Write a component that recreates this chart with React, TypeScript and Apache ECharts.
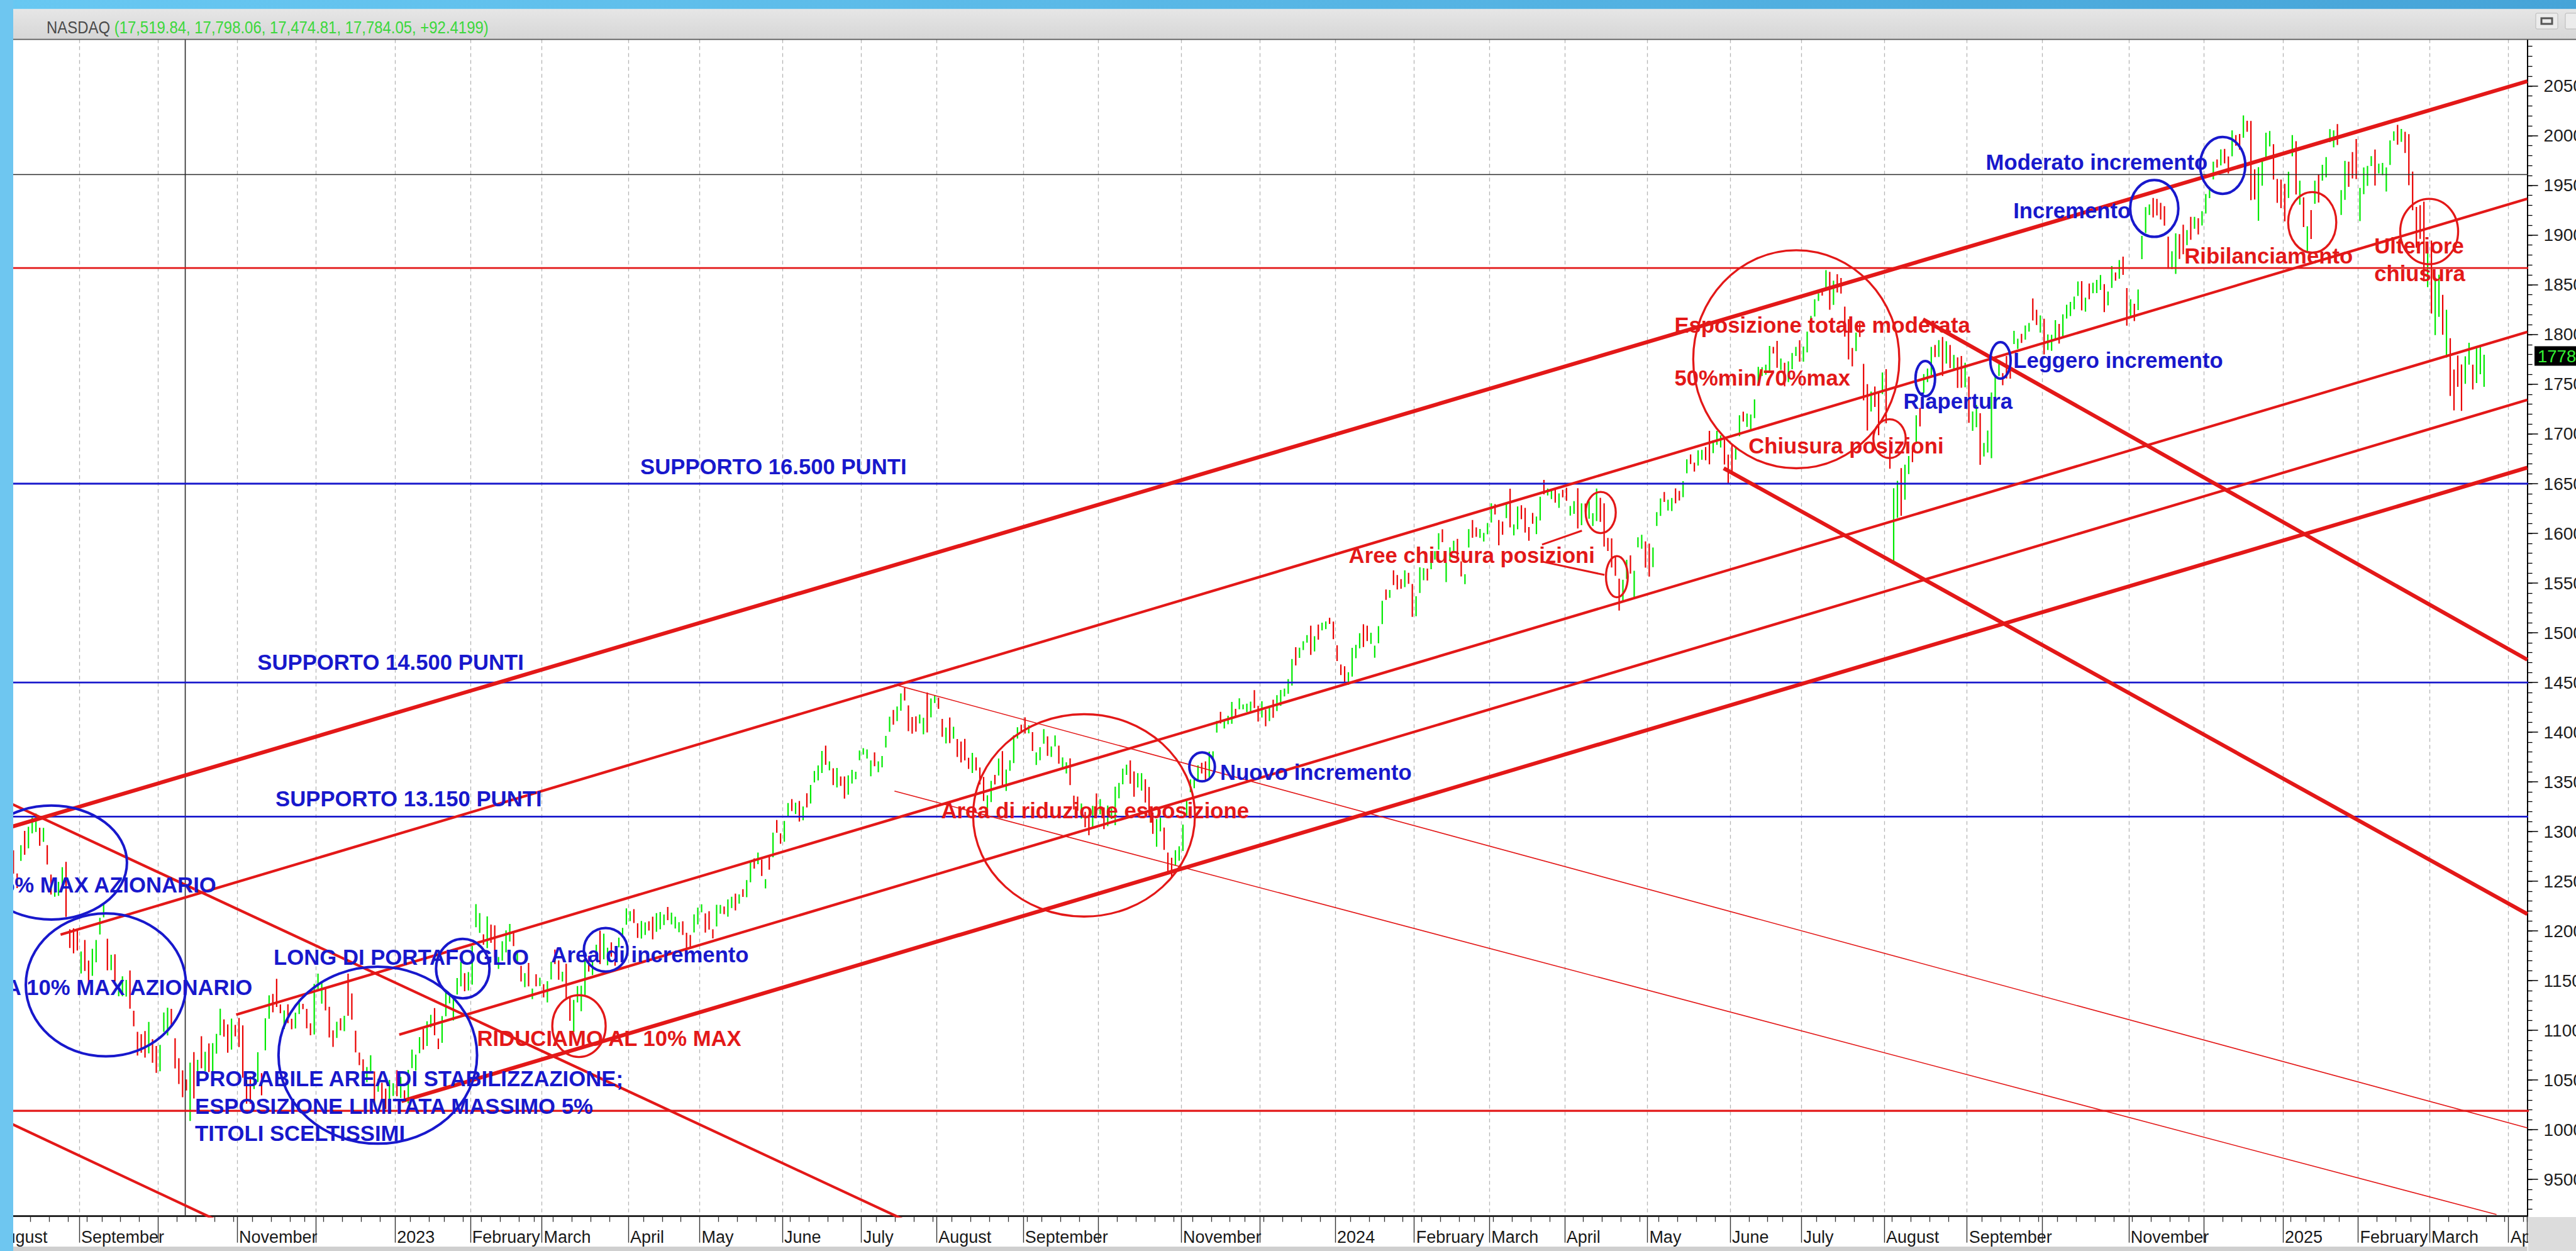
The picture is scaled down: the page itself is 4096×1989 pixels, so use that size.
import React, { useEffect, useRef } from "react";
import * as echarts from "echarts";

const CANVAS_W = 4096;
const CANVAS_H = 1989;

// ---------- NASDAQ Composite daily sessions: [open, high, low, close] ----------
const aug2022 = [[12307,12485,12290,12369],[12277,12463,12247,12349],[12434,12698,12424,12668],[12686,12742,12617,12721],[12542,12708,12534,12657],
[12750,12811,12577,12644],[12578,12578,12432,12493],[12741,12863,12705,12855],[12951,13007,12767,12780],[12884,13048,12831,13047],
[12984,13141,12981,13128],[13067,13181,12996,13103],[12981,13038,12856,12938],[12926,13037,12897,12966],[12837,12863,12668,12706],
[12552,12568,12366,12381],[12379,12474,12345,12381],[12364,12495,12353,12432],[12475,12641,12463,12640],[12601,12695,12141,12142],
[11995,12016,11828,11884],[11963,12027,11774,11883],[11977,12009,11803,11816]];
const sep2022 = [[11701,11794,11572,11785],[11874,11909,11597,11631],[11646,11702,11470,11544],[11563,11821,11549,11792],[11721,11909,11685,11862],
[11968,12132,11964,12112],[12154,12270,12137,12266],[11890,11922,11604,11634],[11683,11760,11605,11719],[11690,11765,11492,11552],
[11384,11469,11343,11448],[11370,11543,11343,11535],[11416,11508,11340,11425],[11455,11602,11218,11220],[11125,11198,11040,11067],
[10965,10985,10746,10868],[10872,10961,10775,10802],[10934,10993,10726,10829],[10835,11085,10768,11051],[10903,10911,10674,10737],
[10676,10843,10572,10576]];
const oct2022 = [[10647,10854,10589,10815],[10990,11180,10985,11176],[11022,11228,10949,11148],[11115,11216,11046,11073],[10895,10921,10617,10652],
[10705,10720,10460,10542],[10497,10598,10327,10426],[10438,10506,10395,10417],[10145,10675,10089,10649],[10750,10781,10314,10321],
[10513,10704,10509,10676],[10921,10941,10618,10772],[10663,10784,10590,10681],[10678,10868,10581,10614],[10582,10872,10495,10859],
[10888,10965,10766,10952],[10967,11218,10951,11199],[10995,11111,10937,10970],[10998,11059,10775,10792],[10845,11118,10806,11102],
[11034,11055,10940,10988]];
const nov2022 = [[11116,11125,10832,10890],[10880,11050,10524,10524],[10420,10502,10262,10342],[10485,10538,10263,10475],[10497,10580,10410,10565],
[10602,10780,10480,10616],[10546,10570,10346,10353],[10815,11121,10798,11114],[11157,11352,11117,11323],[11222,11367,11181,11196],
[11486,11518,11236,11359],[11249,11260,11172,11184],[11020,11200,11014,11144],[11235,11262,11073,11146],[11099,11117,11011,11025],
[11062,11178,11018,11174],[11179,11310,11164,11285],[11246,11267,11213,11226],[11172,11217,11020,11049],[11055,11071,10950,10983],
[11002,11468,10958,11468]];
const dec2022 = [[11479,11571,11414,11482],[11304,11481,11269,11461],[11396,11414,11200,11240],[11232,11237,10928,10958],[10934,11000,10834,10873],
[10958,11087,10923,11082],[11027,11121,11000,11005],[11025,11146,10991,11144],[11560,11571,11146,11256],[11257,11371,11107,11171],
[10980,10997,10778,10811],[10740,10777,10650,10705],[10704,10708,10526,10546],[10499,10631,10479,10547],[10606,10750,10581,10709],
[10587,10587,10247,10476],[10437,10514,10383,10498],[10462,10472,10302,10354],[10339,10414,10207,10213],[10321,10502,10301,10479],
[10369,10468,10340,10466]];
const jan2023 = [[10562,10599,10336,10386],[10449,10532,10319,10459],[10386,10397,10283,10305],[10380,10602,10265,10569],[10622,10807,10620,10636],
[10622,10756,10594,10743],[10801,10932,10770,10932],[10962,11016,10806,10931],[10848,11092,10843,11079],[11070,11156,11029,11095],
[11167,11224,10950,10958],[10889,10917,10812,10852],[10886,11144,10875,11140],[11155,11401,11142,11365],[11306,11368,11272,11334],
[11180,11319,11099,11313],[11439,11527,11361,11512],[11447,11692,11442,11622],[11530,11576,11393,11394],[11402,11587,11402,11585]];
const feb2023 = [[11574,11849,11460,11816],[12063,12270,12038,12201],[12002,12179,11980,12007],[11936,11966,11862,11888],[11863,12146,11827,12114],
[12056,12064,11881,11910],[12018,12057,11734,11790],[11700,11739,11618,11718],[11738,11897,11700,11892],[11827,12006,11784,11960],
[11917,12070,11894,12070],[11900,11987,11847,11855],[11784,11801,11681,11787],[11612,11650,11492,11492],[11505,11575,11435,11507],
[11676,11678,11442,11590],[11384,11421,11314,11395],[11539,11565,11442,11467],[11450,11529,11446,11456]];
const mar2023 = [[11421,11464,11332,11379],[11318,11495,11281,11462],[11527,11690,11512,11689],[11734,11812,11667,11676],[11672,11703,11509,11530],
[11535,11590,11491,11576],[11611,11671,11323,11338],[11305,11337,11096,11139],[11011,11306,10982,11188],[11330,11446,11281,11428],
[11262,11449,11193,11434],[11383,11735,11352,11717],[11713,11749,11591,11631],[11612,11699,11556,11675],[11759,11862,11714,11860],
[11855,12002,11667,11670],[11745,11972,11714,11788],[11723,11831,11655,11824],[11871,11886,11741,11768],[11767,11772,11650,11716],
[11847,11933,11835,11926],[12000,12031,11943,12013],[12084,12227,12062,12222]];
const apr2023 = [[12131,12199,12099,12189],[12210,12219,12080,12126],[12067,12077,11929,11996],[11960,12100,11924,12088],[11997,12087,11960,12084],
[12092,12097,12004,12032],[12121,12144,11915,11929],[11999,12180,11991,12167],[12106,12190,12017,12124],[12102,12166,12060,12158],
[12227,12241,12109,12154],[12079,12184,12066,12157],[12057,12143,12025,12060],[12065,12088,11987,12072],[12070,12097,11960,12037],
[11972,11982,11798,11800],[11884,11960,11820,11854],[12000,12167,11985,12143],[12108,12235,12066,12227]];
const may2023 = [[12208,12268,12187,12213],[12152,12176,11983,12081],[12094,12198,12014,12025],[11995,12017,11925,11967],[12062,12263,12046,12235],
[12242,12262,12173,12256],[12193,12246,12168,12180],[12272,12317,12144,12306],[12324,12345,12231,12329],[12359,12376,12207,12285],
[12327,12368,12275,12366],[12348,12420,12343,12344],[12388,12512,12339,12500],[12515,12699,12490,12688],[12700,12731,12627,12658],
[12683,12789,12672,12721],[12682,12719,12553,12560],[12484,12522,12428,12484],[12726,12754,12616,12698],[12748,12990,12741,12976],
[13106,13117,12988,13017],[12968,12981,12878,12935]];
const jun2023 = [[12953,13107,12898,13101],[13209,13287,13147,13241],[13261,13327,13206,13230],[13212,13290,13177,13276],[13296,13307,13100,13104],
[13119,13253,13113,13239],[13288,13385,13243,13259],[13300,13469,13282,13461],[13557,13610,13494,13573],[13578,13665,13515,13626],
[13595,13810,13589,13782],[13841,13864,13671,13689],[13633,13706,13616,13667],[13636,13636,13468,13502],[13462,13640,13444,13630],
[13523,13554,13459,13492],[13480,13554,13331,13335],[13377,13566,13371,13555],[13488,13621,13483,13591],[13582,13602,13526,13591],
[13725,13816,13718,13788]];
const jul2023 = [[13779,13839,13774,13816],[13761,13826,13734,13791],[13624,13715,13556,13679],[13668,13797,13658,13660],[13620,13707,13597,13685],
[13718,13760,13646,13760],[13905,13963,13846,13919],[14028,14155,14004,14138],[14156,14223,14075,14113],[14142,14258,14111,14244],
[14223,14389,14216,14353],[14389,14446,14319,14358],[14232,14270,14010,14063],[14117,14152,13985,14032],[14086,14159,14005,14058],
[14091,14178,14088,14144],[14074,14145,13978,14127],[14311,14399,13997,14050],[14167,14339,14150,14316],[14344,14371,14293,14346]];
const aug2023 = [[14306,14347,14235,14283],[14132,14133,13953,13973],[13901,14046,13887,13959],[14069,14147,13890,13909],[13974,14055,13934,14037],
[13911,13931,13750,13885],[13895,13906,13696,13722],[13830,13932,13716,13737],[13663,13743,13631,13645],[13602,13791,13590,13789],
[13718,13746,13614,13632],[13589,13645,13474,13474],[13528,13550,13307,13317],[13201,13364,13161,13291],[13324,13510,13296,13498],
[13561,13571,13473,13505],[13566,13735,13564,13722],[13800,13809,13455,13464],[13548,13624,13409,13590],[13665,13718,13612,13705],
[13694,13968,13689,13944],[13958,14050,13935,14020],[14058,14075,14012,14035]];
const sep2023 = [[14130,14149,13986,14031],[14011,14069,13988,14021],[13995,14001,13811,13873],[13722,13797,13670,13749],[13739,13848,13718,13762],
[13890,14030,13883,14021],[13941,13958,13762,13774],[13766,13856,13750,13814],[13919,13967,13856,13926],[13851,13864,13683,13708],
[13652,13746,13638,13710],[13639,13697,13584,13679],[13726,13737,13467,13469],[13328,13362,13222,13224],[13287,13352,13209,13212],
[13172,13282,13131,13271],[13180,13199,13043,13064],[13115,13156,12963,13093],[13046,13258,13033,13201],[13330,13383,13179,13219]];
const oct2023 = [[13217,13327,13173,13308],[13233,13242,13024,13059],[13092,13261,13055,13236],[13213,13245,13127,13220],[13110,13451,13064,13431],
[13358,13490,13335,13485],[13489,13633,13476,13562],[13607,13673,13571,13659],[13676,13715,13482,13574],[13576,13605,13350,13407],
[13452,13587,13443,13567],[13450,13588,13412,13534],[13488,13526,13292,13315],[13355,13448,13155,13186],[13174,13192,12977,12984],
[12941,13125,12848,13019],[13064,13141,13003,13139],[13030,13040,12816,12821],[12765,12788,12570,12596],[12698,12736,12544,12643],
[12704,12813,12657,12789],[12789,12852,12706,12851]];
const nov2023 = [[12868,13071,12805,13061],[13172,13310,13159,13294],[13413,13524,13396,13478],[13468,13537,13435,13518],[13523,13666,13500,13640],
[13680,13692,13584,13651],[13636,13706,13508,13522],[13558,13805,13533,13798],[13733,13807,13720,13768],[14005,14113,13995,14094],
[14157,14204,14087,14104],[14092,14126,14037,14114],[14117,14165,14080,14126],[14092,14305,14084,14285],[14216,14235,14148,14200],
[14262,14340,14230,14266],[14250,14279,14230,14251],[14220,14287,14203,14242],[14210,14307,14195,14282],[14367,14423,14242,14259],
[14257,14265,14107,14226]];
const dec2023 = [[14182,14311,14147,14305],[14200,14226,14059,14185],[14116,14258,14112,14230],[14311,14327,14144,14147],[14225,14372,14213,14340],
[14286,14425,14265,14404],[14372,14439,14360,14432],[14413,14533,14387,14533],[14522,14736,14468,14734],[14781,14854,14672,14762],
[14771,14850,14748,14814],[14837,14915,14826,14905],[14923,14976,14900,14969],[14995,15071,14777,14778],[14882,14966,14812,14964],
[15000,15083,14931,14993],[15028,15101,15024,15075],[15060,15114,15036,15100],[15116,15150,15089,15096],[15100,15112,14936,15011]];
const jan2024 = [[14873,14874,14715,14766],[14641,14680,14575,14592],[14575,14664,14506,14510],[14505,14603,14477,14524],[14567,14848,14559,14843],
[14750,14878,14744,14858],[14853,14995,14843,14970],[15024,15086,14856,14970],[15023,15071,14916,14973],[14916,15001,14888,14944],
[14809,14871,14749,14856],[14928,15066,14894,15056],[15131,15322,15088,15311],[15389,15436,15331,15361],[15388,15431,15351,15426],
[15589,15628,15479,15482],[15573,15581,15435,15511],[15458,15539,15443,15455],[15471,15628,15459,15628],[15594,15603,15492,15510],
[15433,15491,15160,15164]];
const feb2024 = [[15235,15368,15167,15361],[15423,15659,15400,15629],[15589,15651,15528,15598],[15621,15645,15525,15582],[15667,15769,15640,15757],
[15757,15821,15736,15794],[15839,16002,15837,15990],[15994,16042,15912,15942],[15650,15704,15510,15656],[15776,15860,15732,15859],
[15880,15925,15804,15906],[15926,15944,15756,15776],[15693,15719,15567,15630],[15521,15589,15489,15580],[15887,16043,15858,16041],
[16047,16135,15956,15997],[15997,16060,15965,15976],[15992,16045,15955,16035],[15948,16005,15918,15948],[16030,16104,15990,16092]];
const mar2024 = [[16114,16302,16109,16275],[16275,16294,16190,16207],[16124,16135,15880,15940],[16069,16119,15986,16032],[16173,16298,16154,16273],
[16333,16449,16060,16085],[16014,16091,15979,16020],[16094,16270,16041,16266],[16253,16283,16143,16178],[16242,16256,16008,16129],
[16035,16063,15925,15973],[16138,16205,16097,16103],[16017,16170,15992,16167],[16182,16369,16130,16369],[16512,16538,16393,16402],
[16403,16451,16382,16429],[16365,16432,16345,16385],[16440,16451,16308,16316],[16396,16402,16257,16400],[16400,16439,16362,16379]];
const apr2024 = [[16404,16459,16327,16397],[16214,16276,16179,16240],[16202,16325,16197,16277],[16411,16454,16049,16050],[16102,16302,16082,16249],
[16268,16301,16218,16253],[16306,16323,16147,16307],[16117,16202,16075,16171],[16200,16451,16123,16443],[16318,16358,16115,16175],
[16289,16302,15867,15885],[15901,15954,15823,15865],[15920,15949,15657,15684],[15717,15762,15573,15601],[15512,15545,15223,15282],
[15351,15533,15307,15451],[15546,15734,15541,15697],[15725,15778,15595,15713],[15398,15623,15349,15612],[15871,15960,15860,15928],
[15954,15986,15845,15983],[15906,15919,15656,15658]];
const may2024 = [[15653,15898,15565,15605],[15719,15858,15660,15841],[16119,16213,16074,16156],[16197,16351,16176,16349],[16369,16416,16316,16333],
[16244,16338,16230,16303],[16302,16356,16225,16346],[16395,16453,16302,16341],[16406,16428,16330,16389],[16402,16525,16364,16511],
[16620,16746,16605,16742],[16758,16795,16697,16698],[16708,16712,16622,16686],[16692,16835,16682,16795],[16747,16840,16741,16833],
[16860,16869,16735,16802],[16999,17032,16694,16737],[16813,16937,16807,16921],[16943,17032,16891,17020],[16872,16985,16864,16921],
[16943,16946,16693,16737],[16783,16793,16505,16735]];
const jun2024 = [[16894,16900,16624,16829],[16823,16872,16742,16857],[16996,17188,16977,17187],[17176,17225,17125,17173],[17094,17205,17071,17133],
[17086,17196,17046,17193],[17222,17348,17159,17343],[17550,17675,17510,17608],[17667,17673,17583,17667],[17615,17697,17597,17689],
[17681,17886,17617,17862],[17870,17877,17810,17862],[17910,17936,17666,17722],[17685,17760,17643,17689],[17658,17717,17480,17497],
[17555,17731,17522,17718],[17695,17815,17652,17805],[17803,17876,17784,17805],[17869,17942,17727,17733]];
const jul2024 = [[17757,17880,17727,17879],[17839,18029,17821,18029],[18070,18188,18053,18188],[18200,18356,18182,18352],[18376,18416,18339,18403],
[18448,18463,18392,18430],[18478,18648,18471,18647],[18630,18631,18250,18283],[18299,18542,18299,18398],[18475,18607,18424,18473],
[18549,18569,18412,18509],[18265,18281,17979,17997],[18097,18155,17749,17871],[17817,17865,17680,17727],[17888,18021,17834,18008],
[18046,18116,17976,17997],[17701,17706,17338,17342],[17337,17502,17035,17182],[17284,17427,17226,17358],[17450,17478,17272,17370],
[17423,17425,16988,17147],[17409,17618,17401,17599]];
const aug2024 = [[17635,17652,17107,17194],[16868,16939,16650,16776],[15712,16454,15708,16200],[16202,16528,16157,16366],[16597,16656,16177,16196],
[16385,16692,16339,16660],[16663,16779,16597,16745],[16802,16863,16716,16781],[16933,17188,16916,17188],[17218,17262,17076,17192],
[17421,17602,17415,17595],[17548,17658,17522,17632],[17676,17877,17591,17877],[17871,17896,17774,17817],[17848,17945,17775,17918],
[17958,17976,17584,17619],[17739,17934,17708,17878],[17895,17896,17663,17725],[17694,17795,17637,17755],[17769,17771,17463,17557],
[17637,17785,17465,17516],[17596,17717,17469,17714]];
const sep2024 = [[17577,17577,17112,17136],[17061,17226,17032,17084],[17113,17293,17068,17128],[17145,17208,16690,16691],[16817,16909,16774,16885],
[16915,17034,16813,17026],[17003,17418,16756,17396],[17420,17593,17350,17570],[17605,17703,17584,17684],[17599,17612,17491,17593],
[17745,17785,17558,17628],[17627,17780,17556,17573],[17966,18037,17905,18014],[17943,17958,17856,17948],[17982,18007,17916,17974],
[18030,18092,17949,18075],[18081,18117,18029,18082],[18327,18363,18142,18190],[18234,18250,18097,18119],[18065,18193,18021,18189]];
const oct2024 = [[18154,18160,17801,17910],[17883,18002,17844,17926],[17869,17998,17837,17918],[18109,18146,17951,18138],[18086,18107,17910,17923],
[17992,18203,17977,18183],[18184,18300,18161,18291],[18221,18328,18186,18282],[18259,18382,18255,18343],[18400,18534,18389,18503],
[18501,18538,18243,18315],[18328,18372,18231,18367],[18483,18514,18356,18374],[18446,18522,18416,18490],[18475,18550,18417,18540],
[18488,18599,18449,18573],[18505,18508,18226,18277],[18344,18433,18294,18415],[18473,18690,18469,18518],[18589,18624,18543,18567],
[18591,18750,18561,18712],[18687,18785,18601,18607],[18457,18468,18090,18095]];
const nov2024 = [[18202,18355,18187,18239],[18219,18310,18136,18180],[18247,18453,18247,18439],[18783,18993,18759,18983],[19048,19282,19022,19269],
[19259,19309,19203,19287],[19373,19374,19178,19299],[19300,19365,19199,19281],[19260,19325,19158,19231],[19260,19292,19096,19107],
[18980,18985,18662,18680],[18714,18838,18660,18792],[18656,19018,18611,18988],[19011,19011,18760,18967],[19025,19106,18808,18972],
[18962,19051,18900,19004],[19158,19184,18954,19054],[19090,19185,19065,19175],[19163,19171,19007,19060],[19108,19242,19098,19218]];
const dec2024 = [[19232,19414,19218,19404],[19396,19484,19373,19480],[19565,19740,19561,19735],[19741,19762,19679,19701],[19713,19863,19702,19860],
[19848,19868,19722,19737],[19779,19792,19622,19687],[19804,20055,19794,20034],[19993,20008,19899,19902],[19987,20018,19860,19927],
[20000,20205,19980,20174],[20142,20151,20041,20109],[20099,20149,19353,19393],[19637,19662,19358,19373],[19210,19684,19145,19573],
[19590,19765,19498,19765],[19793,20031,19784,20031],[19956,20048,19894,20020],[19905,19915,19560,19722],[19519,19566,19326,19487],
[19542,19559,19271,19311]];
const jan2025 = [[19403,19517,19138,19280],[19395,19638,19374,19622],[19851,20007,19794,19865],[19938,19945,19409,19490],[19469,19549,19306,19479],
[19379,19381,19082,19162],[18946,19090,18831,19088],[19239,19253,18962,19044],[19344,19548,19316,19511],[19597,19612,19328,19338],
[19613,19709,19549,19630],[19740,19785,19582,19757],[19936,20068,19936,20009],[19941,20054,19884,20054],[20068,20118,19907,19954],
[19234,19453,19204,19342],[19431,19748,19356,19734],[19715,19740,19487,19633],[19738,19837,19570,19681],[19832,19967,19564,19627]];
const feb2025 = [[19215,19475,19142,19392],[19435,19682,19412,19654],[19543,19697,19497,19692],[19738,19796,19696,19791],[19796,19862,19499,19523],
[19647,19719,19621,19714],[19609,19727,19604,19643],[19451,19682,19440,19650],[19720,19954,19707,19945],[19957,20045,19951,20027],
[20089,20110,19911,20041],[19984,20069,19939,20056],[20031,20041,19827,19962],[19994,20016,19502,19524],[19631,19640,19251,19286],
[19260,19285,18875,19026],[19098,19301,18963,19075],[19254,19338,18536,18544],[18587,18848,18478,18847]];
const mar2025 = [[18884,18946,18211,18350],[18259,18557,17995,18286],[18297,18602,18178,18553],[18265,18400,17998,18070],[18015,18250,17768,18196],
[17960,17964,17383,17468],[17461,17648,17238,17436],[17676,17790,17474,17648],[17643,17699,17233,17303],[17514,17781,17504,17754],
[17731,17917,17698,17809],[17689,17698,17448,17504],[17535,17878,17513,17751],[17620,17874,17601,17692],[17520,17798,17475,17784]];

const monthsOHLC = [aug2022, sep2022, oct2022, nov2022, dec2022, jan2023, feb2023, mar2023, apr2023, may2023, jun2023, jul2023,
  aug2023, sep2023, oct2023, nov2023, dec2023, jan2024, feb2024, mar2024, apr2024, may2024, jun2024, jul2024, aug2024, sep2024,
  oct2024, nov2024, dec2024, jan2025, feb2025, mar2025];

const marketHolidays = ["2022-09-05","2022-11-24","2022-12-26","2023-01-02","2023-01-16","2023-02-20","2023-04-07","2023-05-29",
  "2023-06-19","2023-07-04","2023-09-04","2023-11-23","2023-12-25","2024-01-01","2024-01-15","2024-02-19","2024-03-29","2024-05-27",
  "2024-06-19","2024-07-04","2024-09-02","2024-11-28","2024-12-25","2025-01-01","2025-01-09","2025-01-20","2025-02-17"];
const SESSION_COUNT = 674; // traded sessions + empty room up to early April 2025

// ---------- axes ----------
const yMajorTicks = [9500,10000,10500,11000,11500,12000,12500,13000,13500,14000,14500,15000,15500,16000,16500,17000,17500,18000,18500,19000,19500,20000,20500];
const Y_MIN = 9130;
const Y_MAX = 20970;
const monthNames = ["January","February","March","April","May","June","July","August","September","October","November","December"];
const unlabeledMonths = [9, 11];

const headerName = "NASDAQ ";
const headerValues = "(17,519.84, 17,798.06, 17,474.81, 17,784.05, +92.4199)";
const lastPrice = 17784;

// ---------- drawn studies (x = session index, y = index points) ----------
const thickTrendLines = [
  [[0, 12997], [673.5, 20549]],
  [[108.2, 10287], [673.5, 16661]],
  [[512.8, 18154], [673.5, 14729]],
  [[459.8, 16655], [673.5, 12170]],
];
const mediumTrendLines = [
  [[17.55, 11963], [673.5, 19367]],
  [[64.25, 11158], [673.5, 18026]],
  [[107.6, 10957], [673.5, 17343]],
  [[0, 13358], [271.7, 8568]],
  [[0, 10140], [88.4, 8568]],
];
const thinTrendLines = [
  [[239.3, 14479], [673.5, 10019]],
  [[239.3, 13407], [665.3, 9147]],
];
const pointerLines = [
  [[411.5, 15887], [422.1, 16027]],
  [[411.5, 15716], [428.1, 15582]],
];
const blueLevels = [16500, 14500, 13150];
const redLevels = [18670, 10190];
const blackLevels = [19610];
const cursorSession = 50.7;

// [centre session, centre points, radius in sessions, radius in points]
const blueCircles = [
  [15.1, 12688, 20.1, 573], [29.6, 11457, 21.3, 719], [101.9, 10750, 26.4, 890], [124.5, 11621, 7.1, 299],
  [162.5, 11810, 5.8, 219], [321.1, 13651, 3.4, 146], [513.4, 17557, 2.6, 177], [533.4, 17740, 2.7, 183],
  [574.3, 19269, 6.4, 286], [592.5, 19702, 6.0, 286],
];
const redCircles = [
  [155.4, 11043, 7.1, 311], [289.7, 13163, 29.5, 1018], [427.1, 16210, 4.0, 207], [431.4, 15564, 2.9, 207],
  [479.1, 17752, 27.4, 1097], [503.9, 16953, 4.3, 195], [616.3, 19129, 6.4, 305], [647.4, 19037, 7.7, 329],
];
// [text, left session, middle points]
const blueNotes: [string, number, number][] = [
  ["SUPPORTO 16.500 PUNTI", 171.7, 16673],
  ["SUPPORTO 14.500 PUNTI", 69.9, 14705],
  ["SUPPORTO 13.150 PUNTI", 74.7, 13328],
  ["5% MAX AZIONARIO", 2.1, 12462],
  ["A 10% MAX AZIONARIO", 2.9, 11432],
  ["LONG DI PORTAFOGLIO", 74.2, 11737],
  ["Area di incremento", 148.0, 11762],
  ["PROBABILE AREA DI STABILIZZAZIONE;", 53.3, 10512],
  ["ESPOSIZIONE LIMITATA MASSIMO 5%", 53.3, 10238],
  ["TITOLI SCELTISSIMI", 53.3, 9964],
  ["Nuovo incremento", 325.9, 13596],
  ["Riapertura", 507.6, 17331],
  ["Leggero incremento", 536.8, 17740],
  ["Incremento", 536.8, 19245],
  ["Moderato incremento", 529.5, 19732],
];
const redNotes: [string, number, number][] = [
  ["RIDUCIAMO AL 10% MAX", 128.3, 10921],
  ["Area di riduzione esposizione", 251.7, 13212],
  ["Aree chiusura posizioni", 360.1, 15777],
  ["Esposizione totale moderata", 446.7, 18093],
  ["50%min/70%max", 446.7, 17563],
  ["Chiusura posizioni", 466.4, 16880],
  ["Ribilanciamento", 582.3, 18788],
  ["Ulteriore", 632.8, 18891],
  ["chiusura", 632.8, 18611],
];

// ---------- styling ----------
const FONT = "'Liberation Sans', Arial, Helvetica, sans-serif";
const BLUE = "#1818cc";
const RED = "#e31818";
const UP = "#00ea00";
const DOWN = "#ea0000";
const GRID_LEFT = -11.6;
const GRID_RIGHT = 77.4;
const GRID_TOP = 62.6;
const GRID_BOTTOM = 55.3;

function buildSessions(): string[] {
  const out: string[] = [];
  const hol = new Set(marketHolidays);
  const d = new Date(Date.UTC(2022, 7, 1));
  while (out.length < SESSION_COUNT) {
    const wd = d.getUTCDay();
    const s = d.toISOString().slice(0, 10);
    if (wd !== 0 && wd !== 6 && !hol.has(s)) out.push(s);
    d.setUTCDate(d.getUTCDate() + 1);
  }
  return out;
}

export default function App() {
  const ref = useRef<HTMLDivElement>(null);

  useEffect(() => {
    document.body.style.margin = "0";
    document.body.style.overflow = "hidden";
    const el = ref.current as HTMLDivElement;
    const chart = echarts.init(el, null, { renderer: "svg" });

    const sessions = buildSessions();
    const ohlc: number[][] = [];
    monthsOHLC.forEach((m) => m.forEach((r) => ohlc.push(r)));
    const candles = ohlc.map((r) => [r[0], r[3], r[2], r[1]]);

    const monthStart = new Set<number>();
    const weekStart = new Set<number>();
    const labelText: string[] = [];
    sessions.forEach((s, i) => {
      const d = new Date(s + "T00:00:00Z");
      labelText.push("");
      if (i === 0 || s.slice(0, 7) !== sessions[i - 1].slice(0, 7)) {
        monthStart.add(i);
        const m = d.getUTCMonth();
        if (unlabeledMonths.indexOf(m) < 0) labelText[i] = m === 0 ? String(d.getUTCFullYear()) : monthNames[m];
      }
      if (i > 0) {
        const prev = new Date(sessions[i - 1] + "T00:00:00Z");
        if (d.getUTCDay() < prev.getUTCDay() || (d.getTime() - prev.getTime()) > 4 * 86400000) weekStart.add(i);
      }
    });

    const yMinor: number[] = [];
    for (let v = 9200; v <= 20900; v += 100) yMinor.push(v);

    const lineSeries = (seg: number[][], color: string, width: number, z = 3) => ({
      type: "line",
      xAxisIndex: 2,
      yAxisIndex: 0,
      data: seg,
      symbol: "none",
      silent: true,
      clip: true,
      z,
      lineStyle: { color, width },
      emphasis: { disabled: true },
    });

    const series: any[] = [
      {
        type: "candlestick",
        xAxisIndex: 0,
        yAxisIndex: 0,
        data: candles,
        barWidth: 4.8,
        z: 2,
        silent: true,
        itemStyle: { color: UP, color0: DOWN, borderColor: UP, borderColor0: DOWN, borderColorDoji: UP, borderWidth: 2.2 },
      },
    ];
    blackLevels.forEach((v) => series.push(lineSeries([[-5, v], [690, v]], "#2a2a2a", 1.6)));
    series.push(lineSeries([[cursorSession, 5000], [cursorSession, 25000]], "#2a2a2a", 1.6));
    redLevels.forEach((v, k) => series.push(lineSeries([[-5, v], [690, v]], RED, k === 0 ? 2.8 : 3.2)));
    blueLevels.forEach((v) => series.push(lineSeries([[-5, v], [690, v]], BLUE, 2.8)));
    thinTrendLines.forEach((s) => series.push(lineSeries(s, RED, 1.6)));
    mediumTrendLines.forEach((s) => series.push(lineSeries(s, RED, 4.2)));
    thickTrendLines.forEach((s) => series.push(lineSeries(s, RED, 6.2)));
    pointerLines.forEach((s) => series.push(lineSeries(s, RED, 3)));

    const option: any = {
      animation: false,
      backgroundColor: "#ffffff",
      grid: { left: GRID_LEFT, right: GRID_RIGHT, top: GRID_TOP, bottom: GRID_BOTTOM, containLabel: false, outerBoundsMode: "none" },
      xAxis: [
        {
          type: "category",
          data: sessions,
          position: "bottom",
          boundaryGap: true,
          axisLine: { show: true, onZero: false, lineStyle: { color: "#000", width: 2.6 } },
          axisTick: { show: true, interval: (i: number) => monthStart.has(i), length: 42, lineStyle: { color: "#333", width: 1.4 } },
          axisLabel: {
            show: true,
            interval: (i: number) => labelText[i] !== "",
            formatter: (_v: string, i: number) => labelText[i],
            align: "left",
            verticalAlign: "middle",
            margin: 33,
            fontSize: 27,
            fontFamily: FONT,
            color: "#1a1a1a",
          },
          splitLine: { show: true, interval: (i: number) => monthStart.has(i), lineStyle: { color: "#b4b4b4", width: 1.3, type: [6, 5] } },
        },
        {
          type: "category",
          data: sessions,
          position: "bottom",
          boundaryGap: true,
          axisLine: { show: false, onZero: false },
          axisTick: { show: true, interval: (i: number) => weekStart.has(i) && !monthStart.has(i), length: 9, lineStyle: { color: "#333", width: 1.3 } },
          axisLabel: { show: false },
          splitLine: { show: false },
        },
        { type: "value", min: -0.5, max: SESSION_COUNT - 0.5, show: false, axisLine: { onZero: false } },
      ],
      yAxis: [
        {
          type: "value",
          position: "right",
          min: Y_MIN,
          max: Y_MAX,
          axisLine: { show: true, onZero: false, lineStyle: { color: "#000", width: 2 } },
          axisTick: { show: true, customValues: yMajorTicks, length: 17, lineStyle: { color: "#000", width: 1.5 } },
          axisLabel: {
            show: true,
            customValues: yMajorTicks,
            formatter: (v: number) => String(v),
            margin: 26,
            fontSize: 28,
            fontFamily: FONT,
            color: "#1e1e1e",
          },
          splitLine: { show: false },
        },
        {
          type: "value",
          position: "right",
          min: Y_MIN,
          max: Y_MAX,
          axisLine: { show: false, onZero: false },
          axisTick: { show: true, customValues: yMinor, length: 8, lineStyle: { color: "#000", width: 1.3 } },
          axisLabel: { show: false },
          splitLine: { show: false },
        },
      ],
      series,
    };
    chart.setOption(option);

    const P = (i: number, v: number) => chart.convertToPixel({ xAxisIndex: 2, yAxisIndex: 0 } as any, [i, v]) as unknown as number[];
    const els: any[] = [];
    const ellipse = (c: number[], color: string, lw: number) => {
      const [cx, cy] = P(c[0], c[1]);
      const rx = Math.abs(P(c[0] + c[2], c[1])[0] - cx);
      const ry = Math.abs(P(c[0], c[1] + c[3])[1] - cy);
      els.push({ type: "ellipse", z: 20, silent: true, shape: { cx, cy, rx, ry }, style: { fill: "none", stroke: color, lineWidth: lw } });
    };
    blueCircles.forEach((c) => ellipse(c, BLUE, 4));
    redCircles.forEach((c) => ellipse(c, RED, 3.3));
    const note = (n: [string, number, number], color: string) => {
      const [x, y] = P(n[1], n[2]);
      els.push({
        type: "text", z: 22, silent: true, x, y,
        style: { text: n[0], fill: color, fontSize: 34.7, fontWeight: "bold", fontFamily: FONT, align: "left", verticalAlign: "middle" },
      });
    };
    blueNotes.forEach((n) => note(n, BLUE));
    redNotes.forEach((n) => note(n, RED));

    // window chrome
    const plotRight = CANVAS_W - GRID_RIGHT;
    const plotBottom = CANVAS_H - GRID_BOTTOM;
    els.push({ type: "rect", z: 100, silent: true, shape: { x: 0, y: 0, width: CANVAS_W, height: 14.4 },
      style: { fill: { type: "linear", x: 0, y: 0, x2: 1, y2: 0, colorStops: [{ offset: 0, color: "#68c8f2" }, { offset: 1, color: "#46a4d8" }] } } });
    els.push({ type: "rect", z: 100, silent: true, shape: { x: 21, y: 14.4, width: CANVAS_W - 21, height: GRID_TOP - 14.4 },
      style: { fill: { type: "linear", x: 0, y: 0, x2: 0, y2: 1, colorStops: [{ offset: 0, color: "#e6e6e6" }, { offset: 1, color: "#d6d6d6" }] } } });
    els.push({ type: "line", z: 101, silent: true, shape: { x1: 21, y1: GRID_TOP, x2: CANVAS_W, y2: GRID_TOP }, style: { stroke: "#5a5a5a", lineWidth: 1.6 } });
    els.push({ type: "rect", z: 102, silent: true, shape: { x: 0, y: 0, width: 21, height: CANVAS_H }, style: { fill: "#6ec6f0" } });
    els.push({
      type: "text", z: 103, silent: true, x: 74, y: 43.3, scaleX: 0.886,
      style: {
        text: "{n|" + headerName + "}{v|" + headerValues + "}",
        verticalAlign: "middle",
        align: "left",
        rich: {
          n: { fill: "#4a4a4a", fontSize: 27, fontFamily: FONT },
          v: { fill: "#3cd83c", fontSize: 27, fontFamily: FONT },
        },
      },
    });
    els.push({ type: "rect", z: 103, silent: true, shape: { x: 4032, y: 21, width: 35, height: 25, r: 2 }, style: { fill: "#ececec", stroke: "#b8b8b8", lineWidth: 1 } });
    els.push({ type: "rect", z: 104, silent: true, shape: { x: 4041, y: 29, width: 17, height: 9 }, style: { fill: "none", stroke: "#555", lineWidth: 3 } });
    els.push({ type: "rect", z: 103, silent: true, shape: { x: 4079, y: 21, width: 35, height: 25, r: 2 }, style: { fill: "#ececec", stroke: "#b8b8b8", lineWidth: 1 } });
    els.push({ type: "rect", z: 100, silent: true, shape: { x: plotRight + 1.2, y: plotBottom + 1.4, width: CANVAS_W - plotRight, height: CANVAS_H - plotBottom }, style: { fill: "#dcdcdc" } });
    els.push({ type: "rect", z: 100, silent: true, shape: { x: 21, y: 1982, width: plotRight - 21, height: 7 }, style: { fill: "#cfcfcf" } });
    const py = P(0, lastPrice)[1];
    els.push({ type: "rect", z: 105, silent: true, shape: { x: 4030, y: py - 15.5, width: 70, height: 31 }, style: { fill: "#000" } });
    els.push({ type: "text", z: 106, silent: true, x: 4035, y: py,
      style: { text: String(lastPrice), fill: "#33f033", fontSize: 27.5, fontFamily: FONT, verticalAlign: "middle", align: "left" } });

    chart.setOption({ graphic: { elements: els } });

    return () => chart.dispose();
  }, []);

  return <div ref={ref} style={{ position: "fixed", left: 0, top: 0, width: CANVAS_W, height: CANVAS_H }} />;
}
